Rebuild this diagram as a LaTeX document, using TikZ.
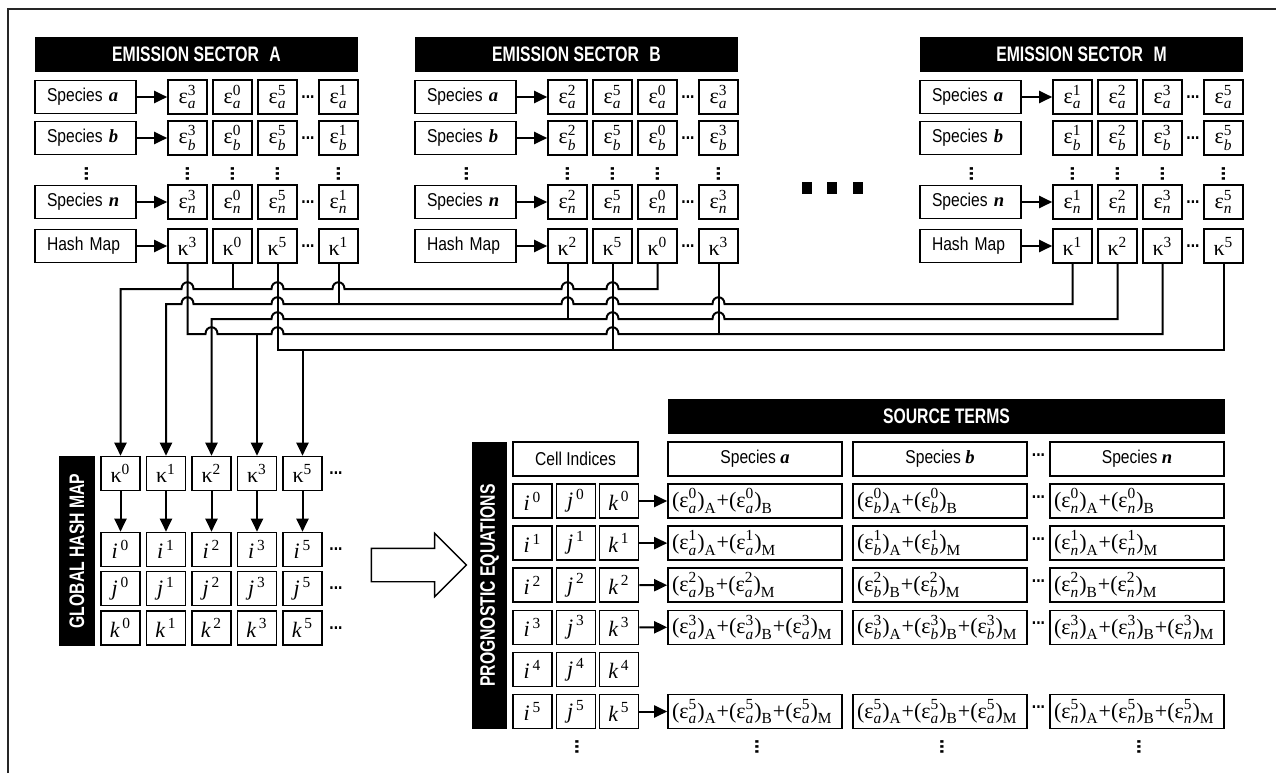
\documentclass[tikz,border=0pt]{standalone}
\usepackage{amsmath}
\usepackage{fontspec}
\setmainfont[FakeStretch=0.84]{Liberation Sans}
\newfontfamily\hdr[FakeStretch=0.75]{Liberation Sans}
\newfontfamily\tms{Liberation Serif}
\usetikzlibrary{arrows.meta,shapes.arrows,calc}

\newcommand{\tx}[1]{\text{\tms #1}}
\newcommand{\eps}[2]{$\tx{ε}^{\tx{#1}}_{\tx{\itshape #2}}$}
\newcommand{\kap}[1]{$\tx{κ}^{\tx{#1}}$}
\newcommand{\idx}[2]{$\tx{\itshape #1}^{\,\tx{#2}}$}
\newcommand{\term}[3]{\tx{(ε}^{\tx{#1}}_{\tx{\itshape #2}}\tx{)}_{\tx{#3}}}
\newcommand{\twoterm}[4]{$\term{#1}{#2}{#3}\tx{+}\term{#1}{#2}{#4}$}
\newcommand{\threeterm}[5]{$\term{#1}{#2}{#3}\tx{+}\term{#1}{#2}{#4}\tx{+}\term{#1}{#2}{#5}$}
\newcommand{\spc}[1]{{\tms\bfseries\itshape #1}}
\newcommand{\hd}{\textbf{...}}
% bump of a bus line over a vertical wire
\newcommand{\hop}[2]{-- ($(#1 |- #2)+(-6,0)$) .. controls ($(#1 |- #2)+(-6,-9)$) and ($(#1 |- #2)+(6,-9)$) .. ($(#1 |- #2)+(6,0)$)}

\tikzset{
  arrowhd/.tip={Triangle[length=6.5pt,width=6pt]},
  wire/.style={line width=1pt},
  arr/.style={wire, -arrowhd},
  rarr/.style={wire, arrowhd-},
  box/.style={draw, line width=0.8pt, inner sep=0pt},
  lbl/.style={box, minimum height=16.5pt, text width=38.5pt, inner xsep=6pt, align=left},
  cell/.style={box, minimum width=19.5pt, minimum height=17pt, font=\fontsize{11}{12}\selectfont},
  term/.style={box, minimum height=17pt, text width=83pt, inner xsep=2pt, align=left, font=\fontsize{11}{12}\selectfont},
  colhead/.style={box, minimum width=87pt, minimum height=17pt},
  bar/.style={fill=black, text=white, font=\hdr\fontsize{10.5}{12}\bfseries, inner sep=0pt},
  sq/.style={fill=black, minimum width=5pt, minimum height=6pt, inner sep=0pt},
  dots/.style={inner sep=0pt},
  vdots/.style={inner sep=0pt, rotate=90, font=\fontsize{11}{12}\selectfont},
}

\begin{document}
\begin{tikzpicture}[x=0.5pt, y=-0.5pt, font=\fontsize{9.3}{11}\selectfont]
  \useasboundingbox (0,0) rectangle (1276,773);
  \draw[line width=0.8pt, black!85] (8,773) -- (8,9) -- (1276,9);

  % emission sectors
  \foreach \s/\dx/\sups in {A/0/{3,0,5,1}, B/380/{2,5,0,3}, M/885/{1,2,3,5}} {
    \node[bar, minimum width=161.5pt, minimum height=17.5pt] (\s-head) at (\dx+196.5,54.5) {EMISSION SECTOR\enspace\s};
    \node[lbl] (\s-la) at (\dx+85.5,97) {Species \spc{a}};
    \node[lbl] (\s-lb) at (\dx+85.5,138) {Species \spc{b}};
    \node[lbl] (\s-ln) at (\dx+85.5,202) {Species \spc{n}};
    \node[lbl] (\s-lh) at (\dx+85.5,246) {Hash Map};
    \node[vdots] (\s-vd) at (\dx+86.5,174) {\hd};
    \foreach \p [count=\c] in \sups {
      \pgfmathsetmacro{\cx}{\dx+{187.5,232.5,277.5,338.5}[\c-1]}
      \node[cell] (\s-a\c) at (\cx,97) {\eps{\p}{a}};
      \node[cell] (\s-b\c) at (\cx,138) {\eps{\p}{b}};
      \node[vdots] (\s-vd\c) at (\cx,174) {\hd};
      \node[cell] (\s-n\c) at (\cx,202) {\eps{\p}{n}};
      \node[cell, alias=\s-kap\p] (\s-k\c) at (\cx,246) {\kap{\p}};
    }
    \foreach \y/\r in {97/a,138/b,202/n,246/h}
      \node[dots] (\s-hd\r) at (\dx+308,\y) {\hd};
  }
  \foreach \s in {A,B,M} {
    \draw[arr] (\s-la) -- (\s-a1);
    \draw[arr] (\s-ln) -- (\s-n1);
    \draw[arr] (\s-lh) -- (\s-k1);
  }
  \foreach \s in {A,B}
    \draw[arr] (\s-lb) -- (\s-b1);

  \node[sq] (sq1) at (807,188) {};
  \node[sq] (sq2) at (832,188) {};
  \node[sq] (sq3) at (858,188) {};

  % global hash map
  \node[bar, rotate=90, minimum width=95pt, minimum height=18pt] (gbar) at (77,551) {GLOBAL HASH MAP};
  \foreach \p [count=\c from 0] in {0,1,2,3,5} {
    \node[cell] (G\p) at (120.5+45.5*\c,473.5) {\kap{\p}};
    \node[cell] (Gi\p) at (120.5+45.5*\c,549.5) {\idx{i}{\p}};
    \node[cell] (Gj\p) at (120.5+45.5*\c,588.5) {\idx{j}{\p}};
    \node[cell] (Gk\p) at (120.5+45.5*\c,628) {\idx{k}{\p}};
    \draw[arr] (G\p) -- (Gi\p);
  }
  \foreach \y/\r in {473.5/k,549.5/i,588.5/j,628/kk}
    \node[dots] (gd\r) at (336,\y) {\hd};

  % bus lines
  \coordinate (bus0) at (0,289);
  \coordinate (bus1) at (0,304);
  \coordinate (bus2) at (0,319);
  \coordinate (bus3) at (0,334);
  \coordinate (bus4) at (0,350);
  \draw[rarr] (G0.north) -- (G0 |- bus0) \hop{A-kap3}{bus0} \hop{A-kap5}{bus0} \hop{A-kap1}{bus0} \hop{B-kap2}{bus0} \hop{B-kap5}{bus0} -- (B-kap0 |- bus0) -- (B-kap0.south);
  \draw[wire] (A-kap0.south) -- (A-kap0 |- bus0);
  \draw[rarr] (G1.north) -- (G1 |- bus1) \hop{A-kap3}{bus1} \hop{A-kap5}{bus1} \hop{B-kap2}{bus1} \hop{B-kap5}{bus1} \hop{B-kap3}{bus1} -- (M-kap1 |- bus1) -- (M-kap1.south);
  \draw[wire] (A-kap1.south) -- (A-kap1 |- bus1);
  \draw[rarr] (G2.north) -- (G2 |- bus2) \hop{A-kap5}{bus2} \hop{B-kap5}{bus2} \hop{B-kap3}{bus2} -- (M-kap2 |- bus2) -- (M-kap2.south);
  \draw[wire] (B-kap2.south) -- (B-kap2 |- bus2);
  \draw[wire] (A-kap3.south) -- (A-kap3 |- bus3) \hop{G2}{bus3} \hop{A-kap5}{bus3} \hop{B-kap5}{bus3} -- (M-kap3 |- bus3) -- (M-kap3.south);
  \draw[wire] (B-kap3.south) -- (B-kap3 |- bus3);
  \draw[rarr] (G3.north) -- (G3 |- bus3);
  \draw[wire] (A-kap5.south) -- (A-kap5 |- bus4) -- (M-kap5 |- bus4) -- (M-kap5.south);
  \draw[wire] (B-kap5.south) -- (B-kap5 |- bus4);
  \draw[rarr] (G5.north) -- (G5 |- bus4);

  \node[single arrow, draw, line width=0.7pt, minimum height=47.5pt, minimum width=31pt,
        single arrow head extend=7.5pt, inner xsep=0pt, inner ysep=8pt] (bigarrow) at (410.5,565) {};

  % prognostic equations
  \node[bar, rotate=90, minimum width=143.5pt, minimum height=17.5pt] (pbar) at (489.5,585.5) {PROGNOSTIC EQUATIONS};
  \node[box, minimum width=62.5pt, minimum height=17pt] (cellidx) at (575.5,459) {Cell Indices};
  \foreach \r in {0,...,5} {
    \node[cell] (Pi\r) at (532.5,501+42.1*\r) {\idx{i}{\r}};
    \node[cell] (Pj\r) at (576,501+42.1*\r) {\idx{j}{\r}};
    \node[cell] (Pk\r) at (619,501+42.1*\r) {\idx{k}{\r}};
  }
  \node[vdots] (pvd) at (577,747) {\hd};

  % source terms
  \node[bar, minimum width=278.5pt, minimum height=17.5pt] (shead) at (946.5,416.5) {SOURCE TERMS};
  \node[colhead] (Sa) at (755,459) {Species \spc{a}};
  \node[colhead] (Sb) at (940,459) {Species \spc{b}};
  \node[colhead] (Sn) at (1137,459) {Species \spc{n}};
  \foreach \sp/\x in {a/755, b/940, n/1137} {
    \node[term] (T\sp0) at (\x,501) {\twoterm{0}{\sp}{A}{B}};
    \node[term] (T\sp1) at (\x,543.1) {\twoterm{1}{\sp}{A}{M}};
    \node[term] (T\sp2) at (\x,585.2) {\twoterm{2}{\sp}{B}{M}};
    \node[term] (T\sp3) at (\x,627.3) {\threeterm{3}{\sp}{A}{B}{M}};
    \node[vdots] (Tvd\sp) at (\x+2,747) {\hd};
  }
  \node[term] (Ta5) at (755,711.5) {\threeterm{5}{a}{A}{B}{M}};
  \node[term] (Tb5) at (940,711.5) {\threeterm{5}{a}{A}{B}{M}};
  \node[term] (Tn5) at (1137,711.5) {\threeterm{5}{n}{A}{B}{M}};
  \foreach \r in {0,1,2,3,5}
    \draw[arr] (Pk\r) -- (Ta\r);
  \foreach \y/\r in {455/h,497/0,539/1,581/2,623/3,707/5}
    \node[dots] (sd\r) at (1038.5,\y) {\hd};
\end{tikzpicture}
\end{document}
